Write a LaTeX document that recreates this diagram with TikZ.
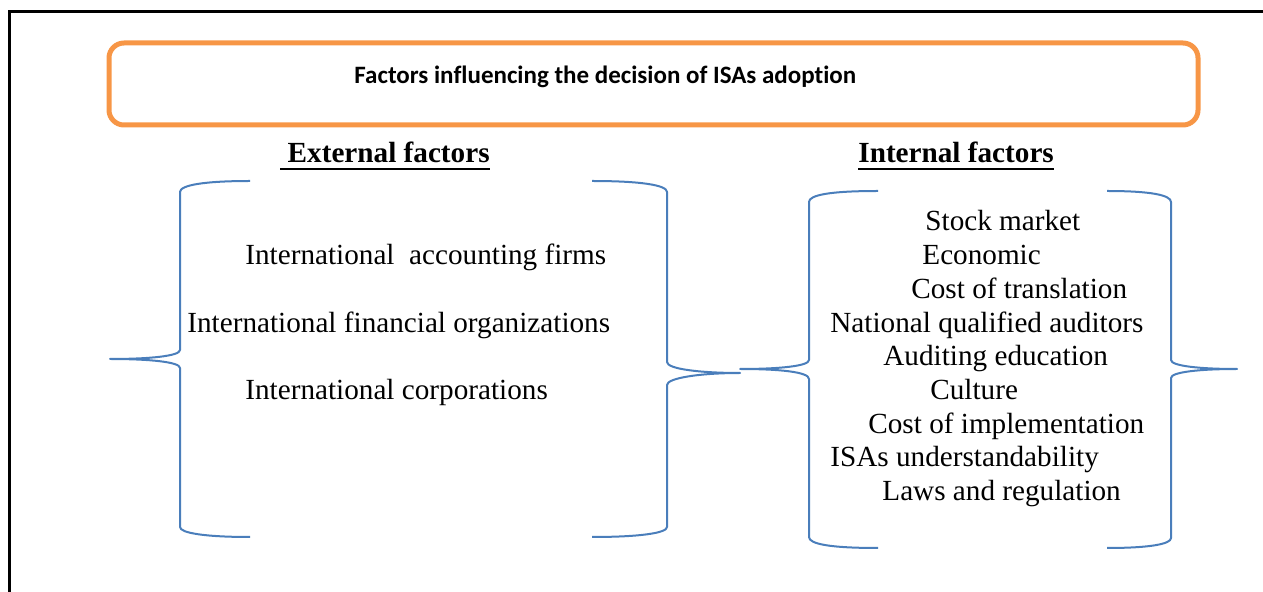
\documentclass[tikz,border=0pt]{standalone}
\usepackage{fontspec}
\setmainfont{Liberation Serif}
\newfontfamily\titlefont[Ligatures=NoCommon]{Carlito}
\usepackage{tikz}
\usetikzlibrary{calc}
\definecolor{bracecol}{HTML}{4A7EBB}
\definecolor{boxorange}{HTML}{F79646}
\tikzset{
  frame/.style={draw=black, line width=1.5pt},
  titlebox/.style={draw=boxorange, line width=2.5pt, rounded corners=7.5pt},
  curly/.style={draw=bracecol, line width=1pt, line join=round},
  item/.style={anchor=base west, inner sep=0pt, font=\fontsize{14.6}{17}\selectfont},
  head/.style={anchor=base west, inner sep=0pt, font=\fontsize{14.6}{17}\selectfont\bfseries},
  ttl/.style={anchor=base west, inner sep=0pt, font=\fontsize{12.5}{15}\selectfont\titlefont\bfseries},
  uline/.style={draw=black, line width=1.3pt},
}
\begin{document}
\begin{tikzpicture}[x=0.5pt,y=-0.5pt]
  \useasboundingbox (0,0) rectangle (1263,592);
  % page frame
  \draw[frame] (9,592) -- (9,12) -- (1263,12);
  \draw[titlebox] (109,43) rectangle (1198,125);
  \node[ttl] (title) at (354,84) {Factors influencing the decision of ISAs adoption};

  % headings
  \node[head] (ext) at (280,163) {\ External factors};
  \node[head] (int) at (858,163) {Internal factors};
  \draw[uline] ([yshift=-3pt]ext.base west) -- ([yshift=-3pt]ext.base east);
  \draw[uline] ([yshift=-3pt]int.base west) -- ([yshift=-3pt]int.base east);

  % external braces
  \draw[curly] (250,181) .. controls (205,181) and (180,185) .. (180,192) -- (180,350)
    .. controls (180,356) and (150,359) .. (110,359)
    .. controls (150,359) and (180,362) .. (180,368) -- (180,527)
    .. controls (180,533) and (205,537) .. (250,537);
  \draw[curly] (592,181) .. controls (640,181) and (667,185) .. (667,192) -- (667,362)
    .. controls (667,369) and (700,373) .. (740,373)
    .. controls (700,373) and (667,378) .. (667,385) -- (667,527)
    .. controls (667,533) and (640,537) .. (592,537);

  % internal braces
  \draw[curly] (878,191) .. controls (830,191) and (809,195) .. (809,202) -- (809,360)
    .. controls (809,366) and (780,369) .. (740,369)
    .. controls (780,369) and (809,372) .. (809,379) -- (809,537)
    .. controls (809,544) and (830,548) .. (878,548);
  \draw[curly] (1107,191) .. controls (1150,191) and (1171,195) .. (1171,202) -- (1171,360)
    .. controls (1171,366) and (1200,369) .. (1237,369)
    .. controls (1200,369) and (1171,372) .. (1171,378) -- (1171,538)
    .. controls (1171,544) and (1150,548) .. (1107,548);

  % external items
  \node[item] (e1) at (245,265) {International\ \ accounting firms};
  \node[item] (e2) at (187,333) {International financial organizations};
  \node[item] (e3) at (245,400) {International corporations};

  % internal items
  \node[item] (i1) at (925,231) {Stock market};
  \node[item] (i2) at (922,265) {Economic};
  \node[item] (i3) at (911,299) {Cost of translation};
  \node[item] (i4) at (830,333) {National qualified auditors};
  \node[item] (i5) at (883,366) {Auditing education};
  \node[item] (i6) at (930,400) {Culture};
  \node[item] (i7) at (868,434) {Cost of implementation};
  \node[item] (i8) at (830,467) {ISAs understandability};
  \node[item] (i9) at (882,501) {Laws and regulation};
\end{tikzpicture}
\end{document}
